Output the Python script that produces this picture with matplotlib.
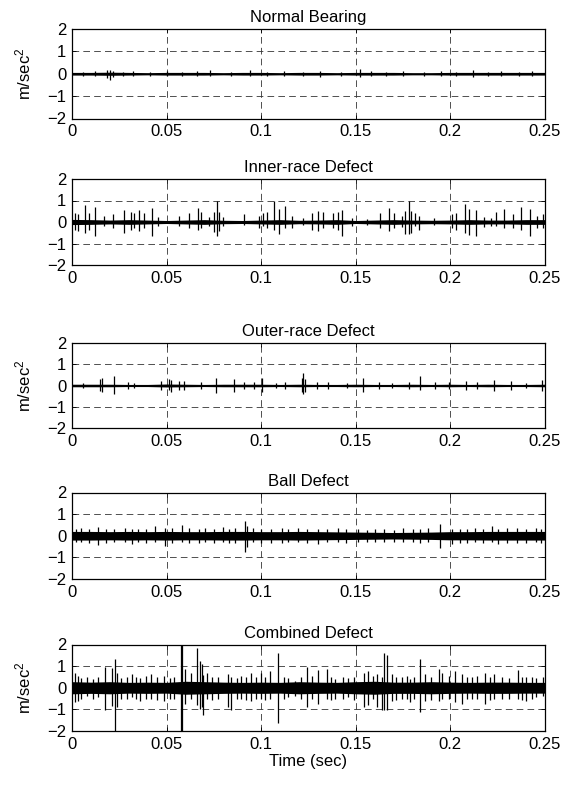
import numpy as np
import matplotlib
matplotlib.use("Agg")
import matplotlib.pyplot as plt

plt.rcParams['font.family'] = ['Liberation Sans', 'DejaVu Sans']
plt.rcParams['mathtext.fontset'] = 'custom'
plt.rcParams['mathtext.rm'] = 'Liberation Sans'
plt.rcParams['mathtext.it'] = 'Liberation Sans'

titles = ["Normal Bearing", "Inner-race Defect", "Outer-race Defect",
          "Ball Defect", "Combined Defect"]
xticks = [0, 0.05, 0.1, 0.15, 0.2, 0.25]
xtick_labels = ["0", "0.05", "0.1", "0.15", "0.2", "0.25"]
yticks = [-2, -1, 0, 1, 2]

# time grid of the background noise band (sec)
band_t = [0, 0.01, 0.02, 0.03, 0.04, 0.05, 0.06, 0.07, 0.08, 0.09, 0.1, 0.11, 0.12,
          0.13, 0.14, 0.15, 0.16, 0.17, 0.18, 0.19, 0.2, 0.21, 0.22, 0.23, 0.24, 0.25]

# --- Normal bearing
normal_band = [0.06, 0.06, 0.07, 0.06, 0.05, 0.06, 0.06, 0.06, 0.05, 0.06, 0.06, 0.05, 0.06,
               0.06, 0.05, 0.06, 0.06, 0.06, 0.05, 0.05, 0.06, 0.06, 0.06, 0.06, 0.06, 0.06]
normal_t = [0.006, 0.012, 0.0185, 0.020, 0.0215, 0.027, 0.032, 0.041, 0.05, 0.058,
            0.066, 0.073, 0.084, 0.094, 0.103, 0.112, 0.122, 0.131, 0.142, 0.152,
            0.158, 0.166, 0.175, 0.186, 0.195, 0.203, 0.212, 0.220, 0.227, 0.236, 0.243]
normal_hi = [0.1, 0.12, 0.18, 0.15, 0.12, 0.1, 0.14, 0.1, 0.12, 0.1,
             0.12, 0.15, 0.1, 0.16, 0.1, 0.12, 0.1, 0.14, 0.1, 0.2,
             0.14, 0.1, 0.12, 0.1, 0.13, 0.1, 0.15, 0.1, 0.14, 0.1, 0.12]
normal_lo = [-0.1, -0.1, -0.2, -0.28, -0.15, -0.1, -0.12, -0.1, -0.12, -0.1,
             -0.1, -0.12, -0.1, -0.12, -0.1, -0.1, -0.1, -0.15, -0.1, -0.15,
             -0.12, -0.1, -0.1, -0.1, -0.12, -0.1, -0.15, -0.1, -0.12, -0.1, -0.1]

# --- Inner-race defect
inner_band = [0.12, 0.11, 0.09, 0.11, 0.09, 0.07, 0.09, 0.11, 0.08, 0.07, 0.09, 0.11, 0.08,
              0.09, 0.11, 0.07, 0.09, 0.11, 0.09, 0.08, 0.09, 0.11, 0.09, 0.09, 0.11, 0.11]
inner_t = [0.0018, 0.003, 0.0070, 0.0092, 0.0121, 0.0171, 0.0215, 0.0273, 0.0312, 0.0329,
           0.0356, 0.0382, 0.0423, 0.0452, 0.0567, 0.062, 0.0664, 0.0681, 0.0725, 0.075,
           0.0764, 0.0778, 0.0796, 0.091, 0.099, 0.1012, 0.1033, 0.1069, 0.1095, 0.1125,
           0.1161, 0.1223, 0.1267, 0.1302, 0.1329, 0.1382, 0.1408, 0.1428, 0.1479, 0.1558,
           0.1629, 0.1674, 0.1700, 0.1744, 0.1762, 0.1779, 0.1791, 0.1814, 0.1832, 0.1912,
           0.2009, 0.2027, 0.2076, 0.2097, 0.2133, 0.2177, 0.2212, 0.2239, 0.2283, 0.233,
           0.2375, 0.242, 0.246, 0.249]
inner_hi = [0.4, 0.35, 0.77, 0.4, 0.7, 0.27, 0.35, 0.58, 0.45, 0.4,
            0.55, 0.4, 0.64, 0.25, 0.3, 0.4, 0.63, 0.45, 0.25, 0.45,
            1.0, 0.45, 0.25, 0.35, 0.3, 0.4, 0.45, 0.97, 0.6, 0.73,
            0.3, 0.2, 0.4, 0.5, 0.45, 0.4, 0.45, 0.58, 0.2, 0.15,
            0.4, 0.63, 0.4, 0.3, 0.5, 1.0, 0.5, 0.4, 0.3, 0.2,
            0.35, 0.4, 0.86, 0.6, 0.58, 0.25, 0.2, 0.45, 0.6, 0.35,
            0.7, 0.6, 0.3, 0.35]
inner_lo = [-0.35, -0.4, -0.5, -0.35, -0.66, -0.2, -0.27, -0.5, -0.35, -0.3,
            -0.43, -0.3, -0.66, -0.2, -0.2, -0.3, -0.35, -0.3, -0.2, -0.45,
            -0.66, -0.4, -0.2, -0.15, -0.3, -0.2, -0.3, -0.35, -0.58, -0.3,
            -0.3, -0.15, -0.35, -0.4, -0.3, -0.3, -0.35, -0.66, -0.2, -0.15,
            -0.3, -0.43, -0.3, -0.25, -0.55, -0.58, -0.5, -0.2, -0.35, -0.15,
            -0.3, -0.35, -0.5, -0.6, -0.66, -0.25, -0.2, -0.2, -0.3, -0.3,
            -0.35, -0.66, -0.3, -0.3]

# --- Outer-race defect
outer_band = [0.06, 0.06, 0.06, 0.05, 0.05, 0.07, 0.06, 0.05, 0.06, 0.06, 0.06, 0.05, 0.06,
              0.05, 0.05, 0.06, 0.05, 0.05, 0.06, 0.05, 0.06, 0.05, 0.06, 0.05, 0.05, 0.06]
outer_t = [0.0056, 0.0148, 0.0158, 0.0222, 0.0294, 0.0329, 0.047, 0.0511, 0.0523, 0.0567,
           0.0593, 0.0681, 0.076, 0.0857, 0.091, 0.0963, 0.1002, 0.1077, 0.1125, 0.1214,
           0.1223, 0.1232, 0.1293, 0.1355, 0.1452, 0.1537, 0.1620, 0.1691, 0.1779, 0.1837,
           0.1920, 0.1991, 0.2080, 0.2141, 0.2230, 0.232, 0.24, 0.2485]
outer_hi = [0.12, 0.3, 0.36, 0.45, 0.15, 0.12, 0.2, 0.3, 0.25, 0.22,
            0.2, 0.15, 0.33, 0.3, 0.15, 0.15, 0.33, 0.12, 0.15, 0.35,
            0.6, 0.3, 0.15, 0.15, 0.1, 0.33, 0.18, 0.12, 0.15, 0.44,
            0.15, 0.15, 0.2, 0.15, 0.28, 0.2, 0.12, 0.25]
outer_lo = [-0.12, -0.25, -0.3, -0.38, -0.15, -0.12, -0.2, -0.22, -0.3, -0.2,
            -0.22, -0.15, -0.33, -0.3, -0.15, -0.15, -0.3, -0.12, -0.15, -0.3,
            -0.38, -0.3, -0.15, -0.15, -0.1, -0.3, -0.15, -0.12, -0.15, -0.22,
            -0.15, -0.15, -0.2, -0.15, -0.25, -0.2, -0.12, -0.25]

# --- Ball defect
ball_band = [0.2, 0.2, 0.19, 0.2, 0.19, 0.2, 0.19, 0.19, 0.2, 0.2, 0.19, 0.19, 0.2,
             0.19, 0.18, 0.17, 0.16, 0.15, 0.16, 0.17, 0.19, 0.19, 0.2, 0.2, 0.2, 0.2]
ball_t = [0.002, 0.005, 0.009, 0.0139, 0.018, 0.022, 0.028, 0.0315, 0.035, 0.039,
          0.0438, 0.0491, 0.053, 0.0579, 0.062, 0.067, 0.0703, 0.075, 0.0800, 0.083,
          0.0861, 0.0914, 0.0923, 0.0958, 0.1, 0.105, 0.1108, 0.114, 0.1196, 0.124,
          0.1302, 0.135, 0.1408, 0.145, 0.1513, 0.156, 0.16, 0.165, 0.17, 0.175,
          0.18, 0.184, 0.1883, 0.1945, 0.2007, 0.205, 0.209, 0.2130, 0.217, 0.2218,
          0.2254, 0.23, 0.235, 0.24, 0.245, 0.248]
ball_hi = [0.3, 0.35, 0.32, 0.4, 0.3, 0.33, 0.34, 0.3, 0.32, 0.3,
           0.43, 0.34, 0.35, 0.49, 0.35, 0.32, 0.34, 0.3, 0.42, 0.33,
           0.38, 0.66, 0.45, 0.38, 0.33, 0.3, 0.35, 0.32, 0.34, 0.3,
           0.3, 0.33, 0.34, 0.3, 0.3, 0.28, 0.3, 0.3, 0.28, 0.35,
           0.3, 0.32, 0.38, 0.54, 0.3, 0.33, 0.3, 0.38, 0.32, 0.46,
           0.3, 0.35, 0.38, 0.32, 0.35, 0.33]
ball_lo = [-0.3, -0.3, -0.33, -0.43, -0.32, -0.3, -0.3, -0.38, -0.3, -0.33,
           -0.3, -0.46, -0.32, -0.3, -0.35, -0.33, -0.3, -0.32, -0.3, -0.33,
           -0.35, -0.77, -0.5, -0.3, -0.32, -0.35, -0.35, -0.3, -0.3, -0.33,
           -0.38, -0.3, -0.3, -0.32, -0.3, -0.28, -0.3, -0.3, -0.28, -0.3,
           -0.3, -0.32, -0.3, -0.57, -0.38, -0.32, -0.33, -0.3, -0.33, -0.3,
           -0.38, -0.32, -0.35, -0.33, -0.3, -0.32]

# --- Combined defect
comb_band = [0.28, 0.26, 0.28, 0.25, 0.26, 0.25, 0.3, 0.28, 0.26, 0.25, 0.26, 0.25, 0.28,
             0.26, 0.25, 0.28, 0.3, 0.26, 0.26, 0.28, 0.26, 0.25, 0.26, 0.26, 0.25, 0.25]
comb_t = [0.0016, 0.0034, 0.005, 0.0078, 0.0113, 0.014, 0.0176, 0.0211, 0.0225, 0.0238,
          0.026, 0.0291, 0.0317, 0.034, 0.0362, 0.039, 0.0415, 0.045, 0.0486, 0.052,
          0.0539, 0.0578, 0.0583, 0.0596, 0.0628, 0.0663, 0.0677, 0.0688, 0.0695, 0.0716,
          0.074, 0.0770, 0.0823, 0.0840, 0.087, 0.0894, 0.092, 0.0947, 0.097, 0.1000,
          0.102, 0.1044, 0.1089, 0.112, 0.1143, 0.1178, 0.121, 0.1240, 0.127, 0.1302,
          0.1346, 0.137, 0.1390, 0.143, 0.1461, 0.149, 0.1541, 0.1567, 0.159, 0.1611,
          0.1638, 0.1650, 0.1664, 0.1691, 0.171, 0.1744, 0.177, 0.1788, 0.181, 0.1841,
          0.1867, 0.190, 0.1938, 0.1956, 0.199, 0.2026, 0.2062, 0.209, 0.2115, 0.214,
          0.2185, 0.221, 0.2230, 0.2274, 0.231, 0.2356, 0.238, 0.240, 0.243, 0.2455, 0.249]
comb_hi = [0.7, 0.56, 0.45, 0.48, 0.4, 0.5, 0.94, 0.9, 1.32, 0.7,
           0.45, 0.5, 0.63, 0.5, 0.45, 0.55, 0.63, 0.5, 0.56, 0.45,
           0.5, 2.0, 2.0, 0.86, 0.7, 1.85, 1.25, 1.1, 0.6, 0.7,
           0.5, 0.5, 0.63, 0.5, 0.45, 0.56, 0.5, 0.7, 0.5, 0.7,
           0.5, 0.79, 1.6, 0.5, 0.45, 0.33, 0.5, 0.94, 0.55, 0.8,
           0.86, 0.5, 0.4, 0.5, 0.45, 0.5, 0.7, 0.79, 0.55, 0.63,
           0.5, 1.6, 1.52, 0.63, 0.5, 0.5, 0.55, 0.4, 0.5, 1.32,
           0.63, 0.5, 0.86, 0.7, 0.55, 0.79, 0.63, 0.5, 0.5, 0.55,
           0.7, 0.5, 0.63, 0.5, 0.45, 0.84, 0.5, 0.5, 0.5, 0.45, 0.5]
comb_lo = [-0.66, -0.59, -0.5, -0.4, -0.51, -0.45, -1.05, -0.85, -2.0, -0.9,
           -0.5, -0.5, -0.45, -0.5, -0.59, -0.5, -0.5, -0.55, -0.59, -0.5,
           -0.5, -2.0, -2.0, -0.74, -0.5, -0.82, -0.97, -0.9, -1.27, -0.5,
           -0.55, -0.5, -0.9, -1.05, -0.5, -0.5, -0.55, -0.59, -0.5, -0.5,
           -0.55, -0.51, -1.65, -0.5, -0.45, -0.4, -0.5, -0.9, -0.5, -0.74,
           -0.5, -0.55, -0.5, -0.5, -0.45, -0.55, -0.9, -0.82, -0.5, -0.9,
           -1.05, -1.05, -1.05, -0.59, -0.55, -0.5, -0.5, -0.67, -0.5, -1.12,
           -0.59, -0.55, -0.59, -0.5, -0.5, -0.67, -0.74, -0.5, -0.5, -0.5,
           -0.74, -0.55, -0.5, -0.5, -0.5, -0.5, -0.55, -0.6, -0.5, -0.45, -0.4]

signals = [
    (normal_band, normal_t, normal_hi, normal_lo),
    (inner_band, inner_t, inner_hi, inner_lo),
    (outer_band, outer_t, outer_hi, outer_lo),
    (ball_band, ball_t, ball_hi, ball_lo),
    (comb_band, comb_t, comb_hi, comb_lo),
]

W, H = 566, 787
fig = plt.figure(figsize=(W / 100, H / 100), dpi=100)

# axes boxes in pixels: (top, bottom)
boxes = [(29, 118.5), (179, 265), (343, 428), (492.5, 579), (644.5, 731)]
left, right = 72, 545

for i, (title, (band, t, hi, lo)) in enumerate(zip(titles, signals)):
    top, bot = boxes[i]
    ax = fig.add_axes([left / W, 1 - bot / H, (right - left) / W, (bot - top) / H])
    ax.set_axisbelow(True)
    band = np.array(band)
    ax.fill_between(band_t, -band, band, color='k', lw=0)
    ax.vlines(t, lo, hi, color='k', lw=0.9)
    ax.set_xlim(0, 0.25)
    ax.set_ylim(-2, 2)
    ax.set_xticks(xticks)
    ax.set_xticklabels(xtick_labels)
    ax.set_yticks(yticks)
    ax.grid(True, color='0.2', linestyle=(0, (8, 5)), linewidth=0.6)
    ax.tick_params(direction='in', length=3, width=0.6, top=True, right=True,
                   labelsize=12, pad=4)
    for s in ax.spines.values():
        s.set_linewidth(0.9)
    ax.set_title(title, fontsize=12, pad=5)
    if i in (0, 2, 4):
        ax.set_ylabel('m/sec$^2$', fontsize=12)
        ax.yaxis.set_label_coords(-0.082, 0.5)
    if i == 4:
        ax.set_xlabel('Time (sec)', fontsize=12, labelpad=2)

fig.savefig("out.png", dpi=100)
